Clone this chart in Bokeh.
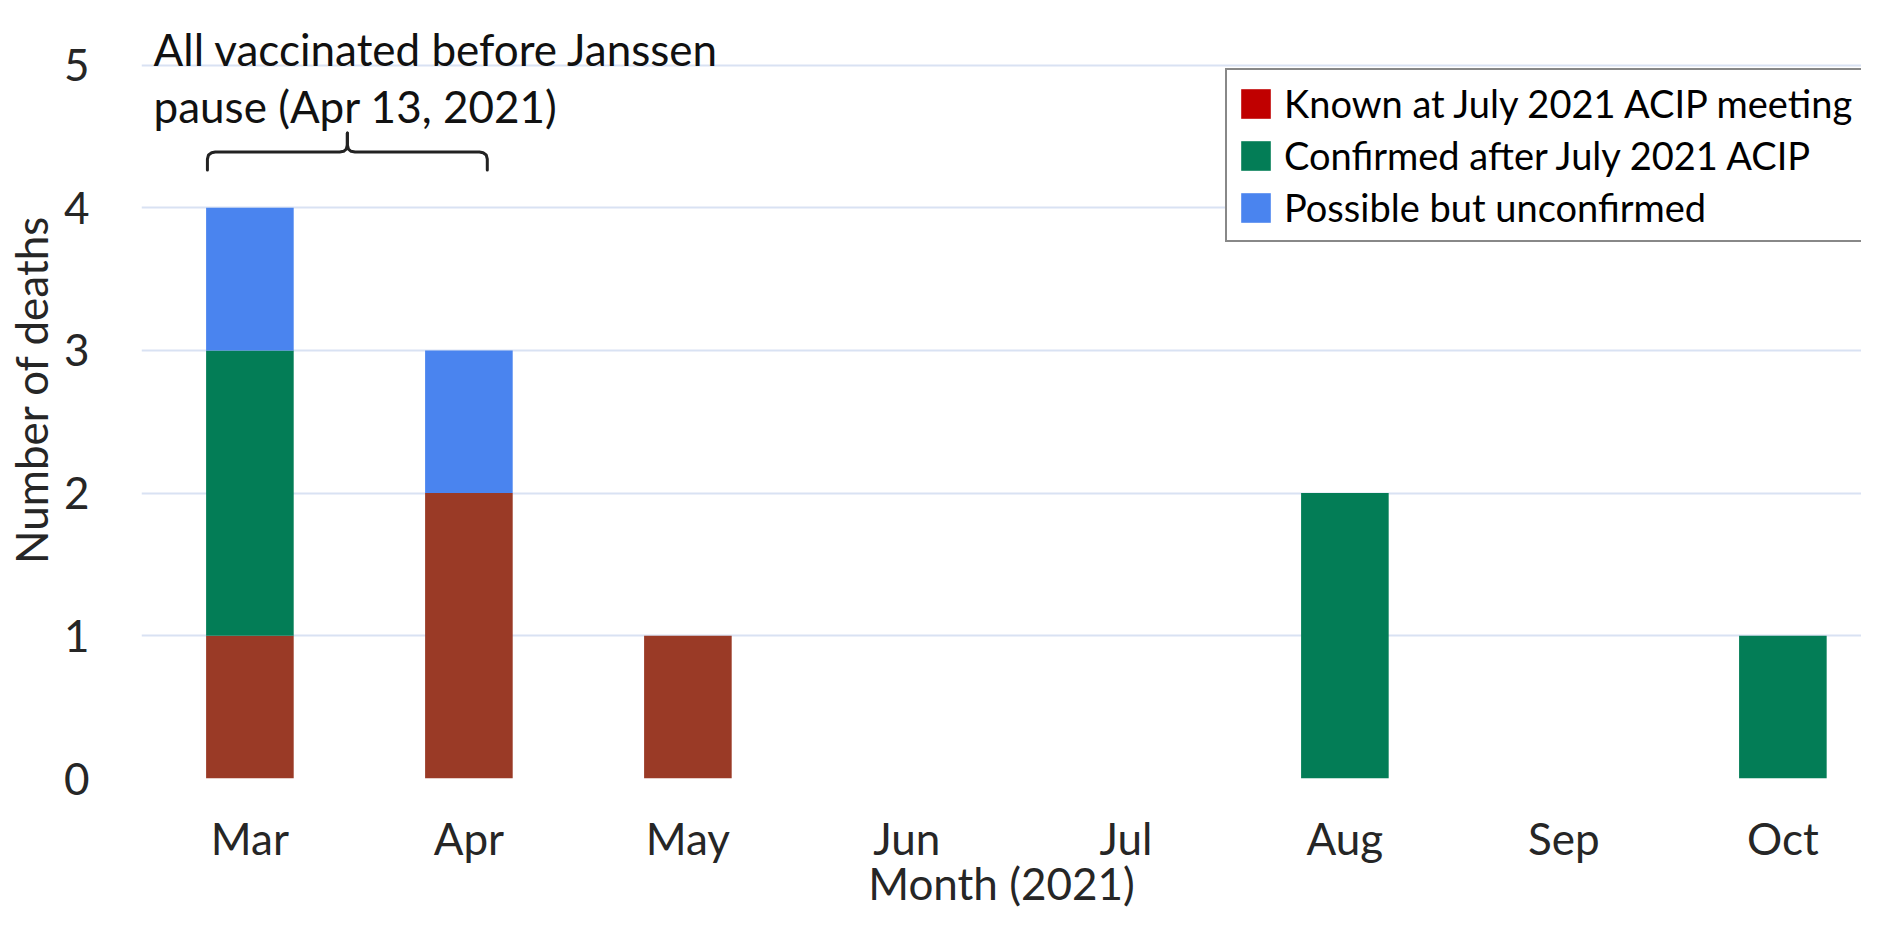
from bokeh.plotting import figure
from bokeh.models import (ColumnDataSource, Range1d, FixedTicker, Legend, LegendItem, Label)
from bokeh.embed import file_html
from bokeh.resources import INLINE

# ---- data ----
months = ["Mar", "Apr", "May", "Jun", "Jul", "Aug", "Sep", "Oct"]
known_july = [1, 2, 1, 0, 0, 0, 0, 0]
confirmed_after = [2, 0, 0, 0, 0, 2, 0, 1]
possible_unconfirmed = [1, 1, 0, 0, 0, 0, 0, 0]
series_names = ["Known at July 2021 ACIP meeting", "Confirmed after July 2021 ACIP", "Possible but unconfirmed"]
y_ticks = [0, 1, 2, 3, 4, 5]
x_title = "Month (2021)"
y_title = "Number of deaths"

bar_colors = ["#9A3A26", "#037D56", "#4A84EF"]
legend_colors = ["#C00000", "#037D56", "#4A84EF"]
FONT = "Lato"
TXT = "#262626"

idx = list(range(len(months)))
source = ColumnDataSource(dict(x=idx, known=known_july, confirmed=confirmed_after, possible=possible_unconfirmed))

p = figure(width=1861, height=913, output_backend="svg", toolbar_location=None,
           x_range=Range1d(-0.495, 7.359), y_range=Range1d(0, 5.452),
           min_border_left=141, min_border_right=0, min_border_top=0, min_border_bottom=135)
p.outline_line_color = None
p.background_fill_color = "white"

p.vbar_stack(["known", "confirmed", "possible"], x="x", width=0.4, source=source,
             fill_color=bar_colors, line_color=None)

# legend-only renderers (swatch colours); they draw nothing in the plot area
nan = float("nan")
dummies = []
for c in legend_colors:
    r = p.vbar(x=[nan], top=[nan], width=0.4, fill_color=c, line_color=None)
    dummies.append(r)

legend = Legend(items=[LegendItem(label=n, renderers=[r]) for n, r in zip(series_names, dummies)],
                location=(1084, 536), orientation="vertical",
                glyph_width=37, glyph_height=37, label_standoff=10, spacing=6,
                padding=10, margin=0, label_width=700,
                label_text_font=FONT, label_text_font_size="38px", label_text_color="#000000",
                border_line_color="#111111", border_line_width=2, background_fill_color="white",
                background_fill_alpha=1.0)
p.add_layout(legend, "center")

# axes
p.xaxis.ticker = FixedTicker(ticks=idx)
p.xaxis.major_label_overrides = {i: m for i, m in zip(idx, months)}
p.yaxis.ticker = FixedTicker(ticks=y_ticks)
for ax in (p.xaxis, p.yaxis):
    ax.axis_line_color = None
    ax.major_tick_line_color = None
    ax.minor_tick_line_color = None
    ax.major_label_text_font = FONT
    ax.major_label_text_font_size = "44px"
    ax.major_label_text_color = TXT
    ax.axis_label_text_font = FONT
    ax.axis_label_text_font_size = "44px"
    ax.axis_label_text_color = TXT
    ax.axis_label_text_font_style = "normal"
p.xaxis.axis_label = x_title
p.yaxis.axis_label = y_title
p.xaxis.major_label_standoff = 27
p.xaxis.axis_label_standoff = -10
p.yaxis.major_label_standoff = 46
p.yaxis.axis_label_standoff = 4

p.xgrid.grid_line_color = None
p.ygrid.grid_line_color = "#D9E2F3"
p.ygrid.grid_line_width = 2

# annotation text
x0 = idx[0]
p.add_layout(Label(x=x0 - 0.44, y=5.109, text="All vaccinated before Janssen",
                   text_font=FONT, text_font_size="44px", text_color="#111111",
                   text_baseline="alphabetic", text_align="left"))
p.add_layout(Label(x=x0 - 0.44, y=4.716, text="pause (Apr 13, 2021)",
                   text_font=FONT, text_font_size="44px", text_color="#111111",
                   text_baseline="alphabetic", text_align="left"))

# curly brace spanning Mar..Apr bars
cx = 0.445
left_x = [-0.194, -0.194, -0.189, -0.175, -0.158, 0.41, 0.428, 0.44, 0.445, 0.445]
left_y = [4.264, 4.34, 4.37, 4.385, 4.39, 4.39, 4.395, 4.41, 4.44, 4.523]
right_x = [2 * cx - v for v in left_x]
p.multi_line(xs=[left_x, right_x], ys=[left_y, left_y], line_color="#222222",
             line_width=3, line_join="round", line_cap="round")

open("out.html", "w").write(file_html(p, INLINE))
